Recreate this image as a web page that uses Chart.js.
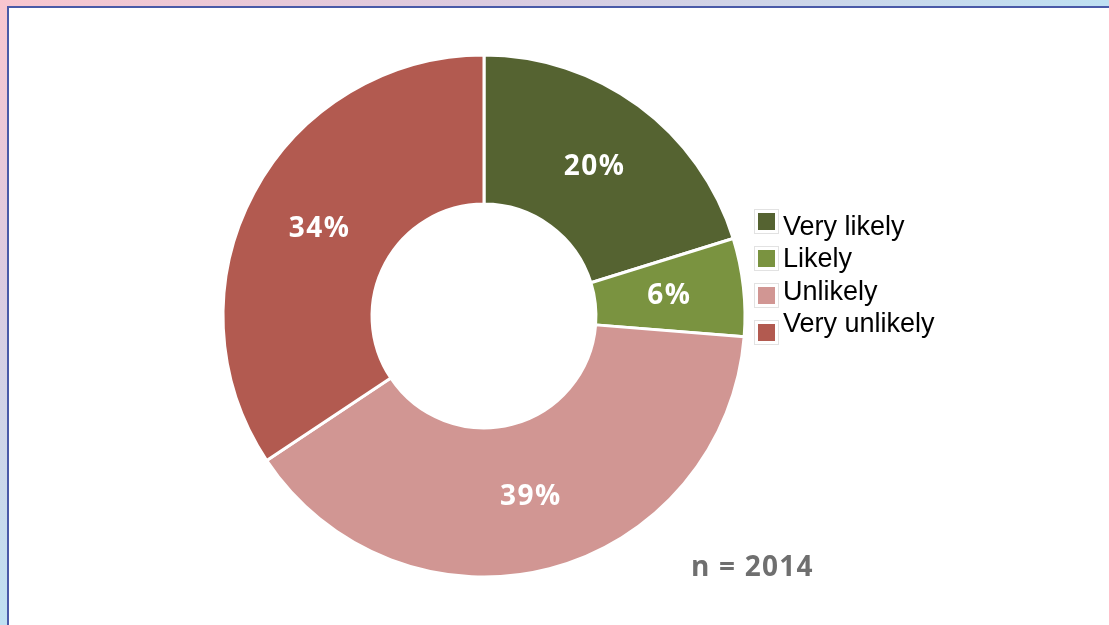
<!DOCTYPE html>
<html>
<head>
<meta charset="utf-8">
<script src="https://cdn.jsdelivr.net/npm/chart.js@4.4.1/dist/chart.umd.min.js"></script>
<style>
  html, body { margin: 0; padding: 0; }
  body {
    width: 1109px; height: 625px; overflow: hidden; position: relative;
    background: linear-gradient(to bottom right, #f9c6cf 0%, #dccbe0 22%, #bfe0f2 50%, #b0e8f8 100%);
  }
  #panel {
    position: absolute; left: 7px; top: 6px; width: 1120px; height: 640px;
    background: #ffffff; border-left: 2px solid #4a5aa8; border-top: 2px solid #4a5aa8;
  }
  #wrap { position: absolute; left: 0; top: 0; width: 1109px; height: 625px; }
  .sw { position: absolute; width: 17px; height: 17px;
        box-shadow: 0 0 0 3px #ffffff, 0 0 0 4px #e2e2e2; }
  .lt { position: absolute; font-family: "Liberation Sans", Arial, sans-serif; font-size: 27px;
        line-height: 28px; color: #000; white-space: nowrap; }
  #note { position: absolute; left: 691px; top: 548px; font-family: "Open Sans", sans-serif;
          font-weight: 700; font-size: 28px; line-height: 34px; color: #6f6f6f; letter-spacing: 1.2px; }
</style>
</head>
<body>
<div id="panel"></div>
<div id="wrap"><canvas id="c" width="1109" height="625"></canvas></div>
<div id="legend"></div>
<div id="note"></div>
<script>
const categories = ["Very likely", "Likely", "Unlikely", "Very unlikely"];
const shares = [20, 6, 39, 34];
const sampleNote = "n = 2014";

const sliceColors = ["#556331", "#7a9340", "#d19693", "#b25a50"];

// legend (HTML)
const legend = document.getElementById('legend');
categories.forEach((name, i) => {
  const sw = document.createElement('div');
  sw.className = 'sw';
  sw.style.left = '758px';
  sw.style.top = (213 + i * 37) + 'px';
  sw.style.background = sliceColors[i];
  legend.appendChild(sw);
  const t = document.createElement('div');
  t.className = 'lt';
  t.style.left = '783px';
  t.style.top = (212 + i * 32.4) + 'px';
  t.textContent = name;
  legend.appendChild(t);
});
document.getElementById('note').textContent = sampleNote;

const labelPlugin = {
  id: 'sliceLabels',
  afterDatasetsDraw(chart) {
    const ctx = chart.ctx;
    const meta = chart.getDatasetMeta(0);
    ctx.save();
    ctx.fillStyle = '#ffffff';
    ctx.font = '700 28px "Open Sans", sans-serif';
    if ('letterSpacing' in ctx) ctx.letterSpacing = '1.5px';
    ctx.textAlign = 'center';
    ctx.textBaseline = 'middle';
    meta.data.forEach((arc, i) => {
      const p = arc.tooltipPosition();
      ctx.fillText(shares[i] + '%', p.x, p.y + 1);
    });
    ctx.restore();
  }
};

new Chart(document.getElementById('c'), {
  type: 'doughnut',
  data: {
    labels: categories,
    datasets: [{
      data: shares,
      backgroundColor: sliceColors,
      borderColor: '#ffffff',
      borderWidth: 3,
      hoverOffset: 0
    }]
  },
  options: {
    responsive: false,
    animation: false,
    radius: 261,
    cutout: '42.9%',
    layout: { padding: { left: 0, right: 141, top: 7, bottom: 0 } },
    plugins: { legend: { display: false }, tooltip: { enabled: false } }
  },
  plugins: [labelPlugin]
});
</script>
</body>
</html>
